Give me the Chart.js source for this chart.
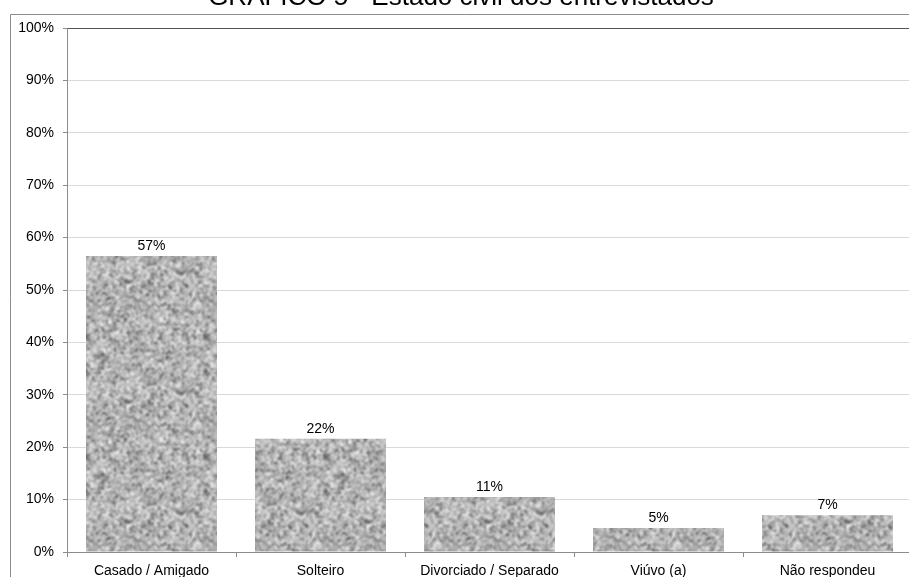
<!DOCTYPE html>
<html>
<head>
<meta charset="utf-8">
<script src="https://cdn.jsdelivr.net/npm/chart.js@4/dist/chart.umd.min.js"></script>
<style>
  html, body { margin: 0; padding: 0; background: #fff; overflow: hidden; }
  #wrap { width: 909px; height: 577px; overflow: hidden; position: relative; }
  canvas { position: absolute; left: 0; top: 0; }
</style>
</head>
<body>
<div id="wrap"><canvas id="c" width="920" height="577"></canvas></div>
<script>
// Estado civil dos entrevistados (percentual)
const titleText = 'GRÁFICO 5 - Estado civil dos entrevistados';
const categories = ['Casado / Amigado', 'Solteiro', 'Divorciado / Separado', 'Viúvo (a)', 'Não respondeu'];
const percentages = [56.5, 21.6, 10.5, 4.6, 7.0];
const yTicks = [0, 10, 20, 30, 40, 50, 60, 70, 80, 90, 100];

const FONT = '"Liberation Sans", Arial, sans-serif';

// Granite-like speckled fill for the bars (deterministic noise)
function makeGranite(ctx) {
  const size = 120;
  const off = document.createElement('canvas');
  off.width = size; off.height = size;
  const o = off.getContext('2d');
  let s = 12345;
  const rnd = () => { s = (s * 1103515245 + 12345) & 0x7fffffff; return s / 0x7fffffff; };
  for (let y = 0; y < size; y += 2) {
    for (let x = 0; x < size; x += 2) {
      const r = (rnd() + rnd()) / 2;
      let g = Math.round(105 + r * 160);
      if (rnd() < 0.07) g = 70 + Math.round(rnd() * 40);
      o.fillStyle = `rgb(${g},${g},${g})`;
      o.fillRect(x, y, 2, 2);
    }
  }
  // tile 3x3 unfiltered, blur the whole sheet, then keep the centre tile
  const big = document.createElement('canvas');
  big.width = size * 3; big.height = size * 3;
  const bg = big.getContext('2d');
  for (let i = 0; i < 3; i++) for (let j = 0; j < 3; j++) bg.drawImage(off, i * size, j * size);
  const soft = document.createElement('canvas');
  soft.width = size * 3; soft.height = size * 3;
  const sg = soft.getContext('2d');
  sg.filter = 'blur(0.8px)';
  sg.drawImage(big, 0, 0);
  const tile = document.createElement('canvas');
  tile.width = size; tile.height = size;
  tile.getContext('2d').drawImage(soft, size, size, size, size, 0, 0, size, size);
  return ctx.createPattern(tile, 'repeat');
}

const canvas = document.getElementById('c');
const ctx = canvas.getContext('2d');
const granite = makeGranite(ctx);

// Outer frame and the (partly hidden) title above it
const framePlugin = {
  id: 'frame',
  beforeDraw(chart) {
    const c = chart.ctx;
    c.save();
    c.fillStyle = '#fff';
    c.fillRect(0, 0, chart.width, chart.height);
    c.strokeStyle = '#8c8c8c';
    c.lineWidth = 1;
    c.beginPath();
    c.moveTo(10.5, chart.height + 5);
    c.lineTo(10.5, 14.5);
    c.lineTo(chart.width + 5, 14.5);
    c.stroke();
    c.fillStyle = '#000';
    c.font = '26px ' + FONT;
    c.textAlign = 'center';
    c.textBaseline = 'alphabetic';
    c.fillText(titleText, 461, 5);
    c.restore();
  }
};

// Percentage labels above each bar
const valueLabels = {
  id: 'valueLabels',
  afterDatasetsDraw(chart) {
    const c = chart.ctx;
    const meta = chart.getDatasetMeta(0);
    c.save();
    c.fillStyle = '#000';
    c.font = '14px ' + FONT;
    c.textAlign = 'center';
    c.textBaseline = 'bottom';
    meta.data.forEach((bar, i) => {
      c.fillText(Math.round(percentages[i]) + '%', bar.x, bar.y - 3);
    });
    c.restore();
  }
};

new Chart(ctx, {
  type: 'bar',
  data: {
    labels: categories,
    datasets: [{
      data: percentages,
      backgroundColor: granite,
      borderWidth: 0,
      barPercentage: 0.775,
      categoryPercentage: 1.0
    }]
  },
  options: {
    responsive: false,
    animation: false,
    devicePixelRatio: 1,
    layout: { padding: { left: 0, right: 8, top: 28, bottom: 0 } },
    plugins: { legend: { display: false }, tooltip: { enabled: false }, title: { display: false } },
    scales: {
      x: {
        grid: {
          offset: true,
          drawOnChartArea: false,
          drawTicks: true,
          tickLength: 5,
          color: '#8c8c8c'
        },
        border: { color: '#8c8c8c', width: 1 },
        ticks: {
          color: '#000',
          font: { family: FONT, size: 14 },
          padding: 6,
          maxRotation: 0,
          autoSkip: false
        },
        afterFit(scale) { scale.height = 25; }
      },
      y: {
        min: 0,
        max: 100,
        afterBuildTicks(scale) { scale.ticks = yTicks.map(v => ({ value: v })); },
        grid: {
          color: ctx => (ctx.tick && ctx.tick.value === 100) ? '#555' : '#d9d9d9',
          tickColor: '#8c8c8c',
          tickLength: 4,
          drawTicks: true
        },
        border: { color: '#8c8c8c', width: 1 },
        ticks: {
          color: '#000',
          font: { family: FONT, size: 14 },
          padding: 9,
          callback: v => v + '%'
        },
        afterFit(scale) { scale.width = 67; }
      }
    }
  },
  plugins: [framePlugin, valueLabels]
});
</script>
</body>
</html>
